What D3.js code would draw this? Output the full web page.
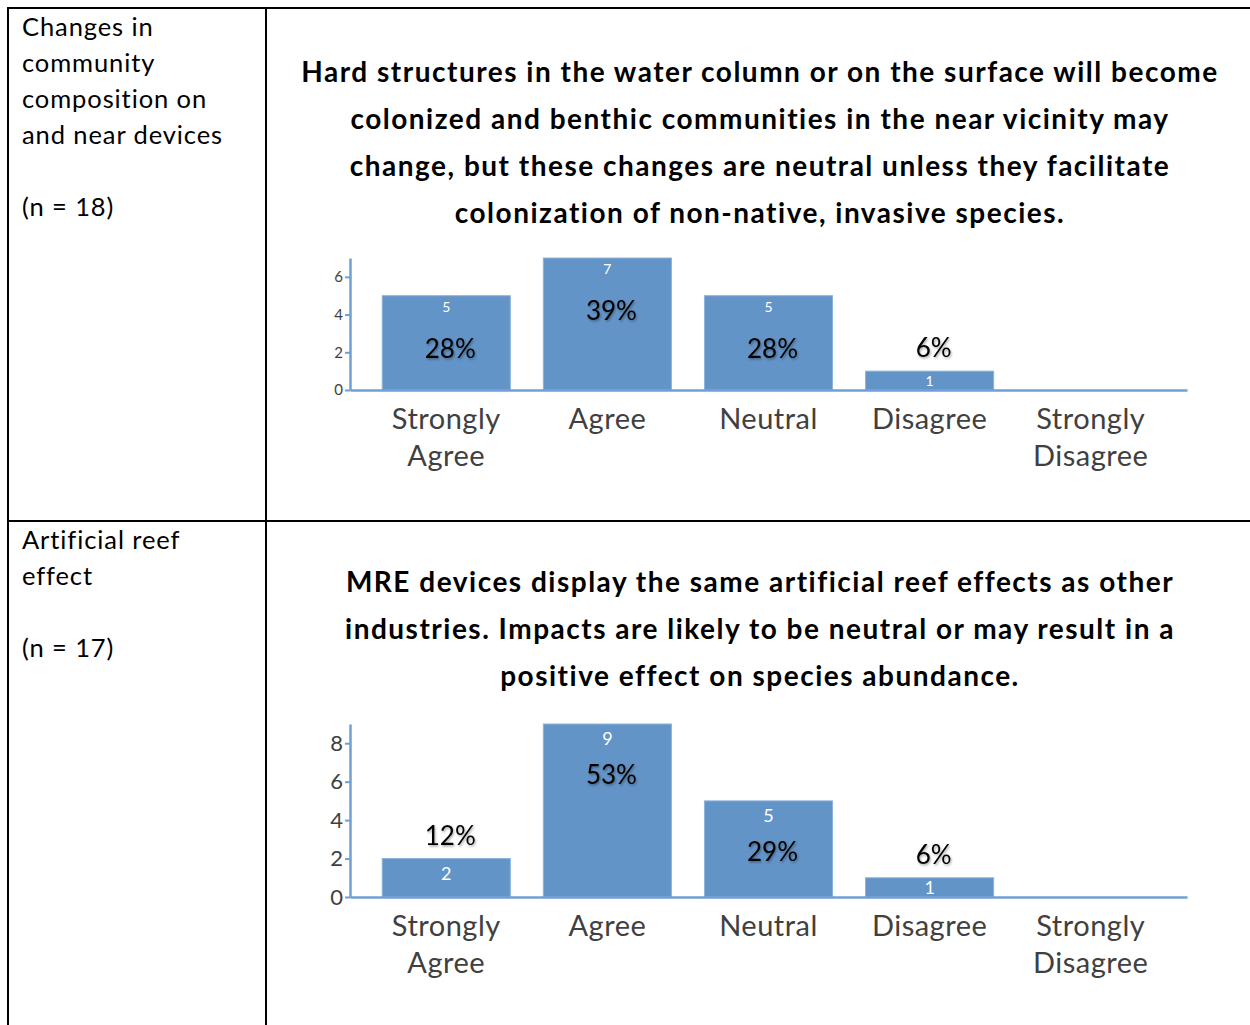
<!DOCTYPE html>
<html><head><meta charset="utf-8">
<script src="https://cdn.jsdelivr.net/npm/d3@7/dist/d3.min.js"></script>
<style>
html,body{margin:0;padding:0;background:#fff;}
svg{display:block;}
</style></head>
<body>
<svg id="c" width="1250" height="1025"></svg>
<script>
const categories = ["Strongly Agree","Agree","Neutral","Disagree","Strongly Disagree"];
const counts1 = [5,7,5,1,0];
const pct1 = ["28%","39%","28%","6%",""];
const ticks1 = [0,2,4,6];
const title1 = ["Hard structures in the water column or on the surface will become",
  "colonized and benthic communities in the near vicinity may",
  "change, but these changes are neutral unless they facilitate",
  "colonization of non-native, invasive species."];
const rowLabel1 = ["Changes in","community","composition on","and near devices","","(n = 18)"];

const counts2 = [2,9,5,1,0];
const pct2 = ["12%","53%","29%","6%",""];
const ticks2 = [0,2,4,6,8];
const title2 = ["MRE devices display the same artificial reef effects as other",
  "industries. Impacts are likely to be neutral or may result in a",
  "positive effect on species abundance."];
const rowLabel2 = ["Artificial reef","effect","","(n = 17)"];

const svg = d3.select("#c");
const defs = svg.append("defs");
const f = defs.append("filter").attr("id","sh").attr("x","-20%").attr("y","-20%").attr("width","140%").attr("height","160%");
f.append("feDropShadow").attr("dx",1).attr("dy",1.5).attr("stdDeviation",1.2).attr("flood-color","#000").attr("flood-opacity",0.35);

// table grid
const grid = svg.append("g").attr("stroke","#000").attr("stroke-width",2);
grid.append("line").attr("x1",8).attr("x2",1250).attr("y1",8).attr("y2",8);
grid.append("line").attr("x1",8).attr("x2",1250).attr("y1",521).attr("y2",521);
grid.append("line").attr("x1",8).attr("x2",8).attr("y1",7).attr("y2",1025);
grid.append("line").attr("x1",266).attr("x2",266).attr("y1",7).attr("y2",1025);

const FONT = "Lato, 'Open Sans', sans-serif";
const BLUE = "#6394C7";
const AXIS = "#6F9FD4";

function rowText(lines, y0){
  svg.append("g").selectAll("text").data(lines).join("text")
    .attr("x",22).attr("y",(d,i)=>y0+i*36)
    .attr("font-family",FONT).attr("font-size",25.5).attr("letter-spacing",0.9).attr("fill","#000")
    .text(d=>d);
}
rowText(rowLabel1, 36);
rowText(rowLabel2, 549);

function title(lines, y0){
  svg.append("g").selectAll("text").data(lines).join("text")
    .attr("x",760).attr("y",(d,i)=>y0+i*47).attr("text-anchor","middle")
    .attr("font-family",FONT).attr("font-weight","bold").attr("font-size",28).attr("letter-spacing",1.5).attr("fill","#000")
    .text(d=>d);
}
title(title1, 82);
title(title2, 592);

function chart(o){
  const x = d3.scaleBand().domain(categories).range([350,1187]).paddingInner(0.205).paddingOuter(0.2);
  const y = d3.scaleLinear().domain([0,o.ymax]).range([o.y0,o.ytop]);
  const g = svg.append("g");
  // bars
  g.selectAll("rect").data(o.counts.map((c,i)=>({c,i}))).join("rect")
    .filter(d=>d.c>0)
    .attr("x",d=>x(categories[d.i])).attr("width",x.bandwidth())
    .attr("y",d=>y(d.c)).attr("height",d=>y(0)-y(d.c))
    .attr("fill",BLUE).attr("stroke","#8DB3DC").attr("stroke-width",1);
  // y axis
  const ya = d3.axisLeft(y).tickValues(o.ticks).tickFormat(d3.format("d")).tickSize(5).tickPadding(2).tickSizeOuter(0);
  const yg = g.append("g").attr("transform","translate(350,0)").call(ya);
  yg.select(".domain").attr("stroke",AXIS).attr("stroke-width",2.5);
  yg.selectAll(".tick line").attr("stroke",AXIS).attr("stroke-width",2);
  yg.selectAll(".tick text").attr("font-family",FONT).attr("font-size",o.tickFont).attr("fill","#404040");
  // x axis
  const xa = d3.axisBottom(x).tickSize(0).tickPadding(0).tickSizeOuter(0).tickFormat("");
  const xg = g.append("g").attr("transform",`translate(0,${o.y0})`).call(xa);
  xg.select(".domain").attr("stroke",AXIS).attr("stroke-width",2.5);
  // category labels
  const lab = g.append("g").selectAll("text").data(categories).join("text")
    .attr("x",d=>x(d)+x.bandwidth()/2).attr("y",o.y0+39).attr("text-anchor","middle")
    .attr("font-family",FONT).attr("font-size",29).attr("letter-spacing",0.5).attr("fill","#404040");
  lab.each(function(d){
    const words = d.split(" ");
    const t = d3.select(this);
    words.forEach((w,i)=>t.append("tspan").attr("x",x(d)+x.bandwidth()/2).attr("dy",i?36.5:0).text(w));
  });
  // count labels
  g.append("g").selectAll("text").data(o.counts.map((c,i)=>({c,i})).filter(d=>d.c>0)).join("text")
    .attr("x",d=>x(categories[d.i])+x.bandwidth()/2)
    .attr("y",d=>Math.min(y(d.c)+o.cntOff,(y(d.c)+y(0))/2)+o.cntFont*0.36)
    .attr("text-anchor","middle").attr("font-family",FONT).attr("font-size",o.cntFont).attr("fill","#fff")
    .text(d=>d.c);
  // percent labels
  g.append("g").selectAll("text").data(o.pct.map((p,i)=>({p,c:o.counts[i],i})).filter(d=>d.p)).join("text")
    .attr("x",d=>x(categories[d.i])+x.bandwidth()/2+4)
    .attr("y",d=>(d.c>=5 ? y(d.c)+o.inOff : y(d.c)-23)+9)
    .attr("text-anchor","middle").attr("font-family",FONT).attr("font-size",26).attr("fill","#000")
    .attr("filter","url(#sh)")
    .text(d=>d.p);
}

chart({counts:counts1,pct:pct1,ticks:ticks1,ymax:7,y0:390,ytop:258,tickFont:15,cntFont:14,cntOff:11,inOff:53});
chart({counts:counts2,pct:pct2,ticks:ticks2,ymax:9,y0:897,ytop:724,tickFont:22,cntFont:18,cntOff:15,inOff:51});
</script>
</body></html>
